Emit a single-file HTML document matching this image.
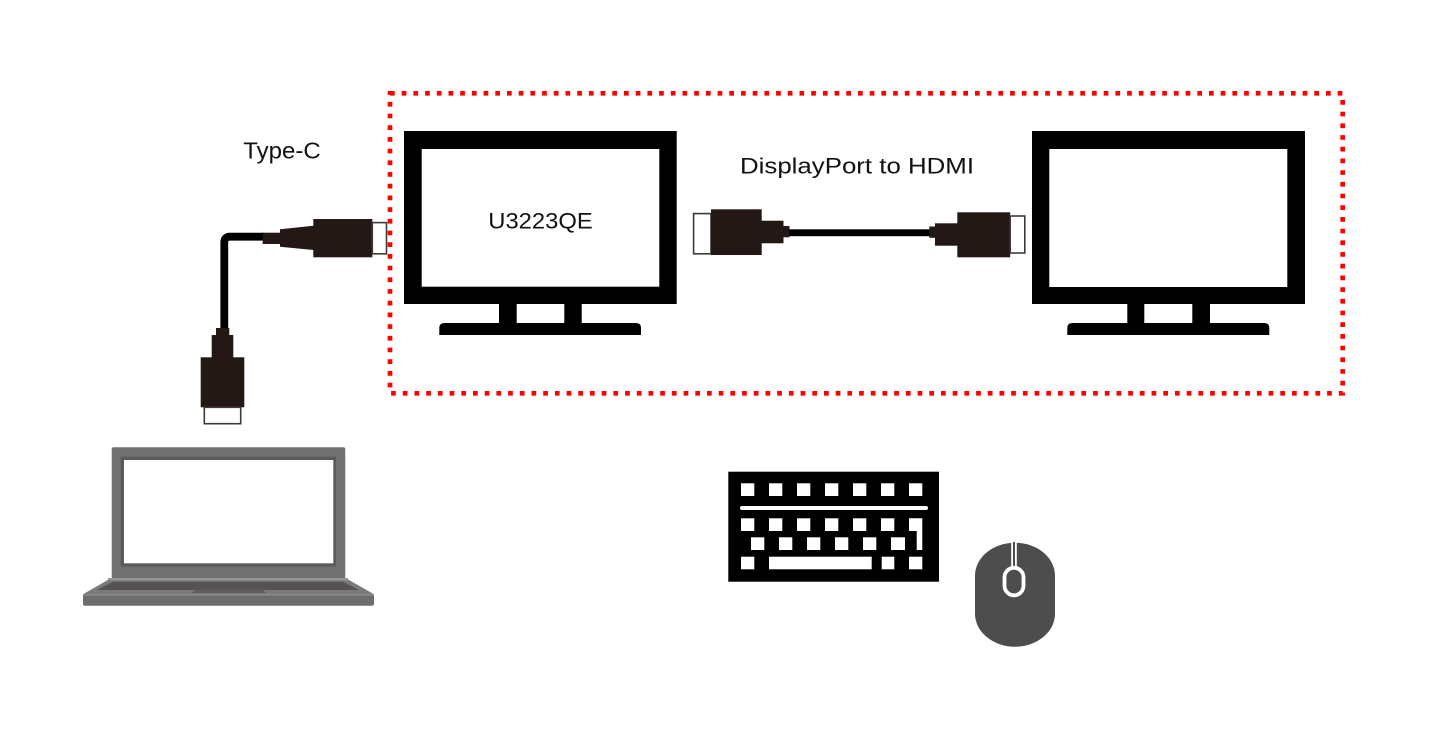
<!DOCTYPE html>
<html><head><meta charset="utf-8"><style>
html,body{margin:0;padding:0;background:#fff;}
svg{display:block;}
text{font-family:"Liberation Sans",sans-serif;fill:#111;}
</style></head><body>
<svg width="1456" height="745" viewBox="0 0 1456 745" xmlns="http://www.w3.org/2000/svg">
<rect width="1456" height="745" fill="#fff"/>

<!-- Monitor 1 -->
<rect x="404" y="131" width="272.7" height="173" fill="#000"/>
<rect x="421.7" y="149" width="237.6" height="137.7" fill="#fff"/>
<rect x="499" y="303" width="17.7" height="21" fill="#000"/>
<rect x="564.3" y="303" width="17.4" height="21" fill="#000"/>
<path d="M439.3 335 V328 Q439.3 323 444.3 323 H636 Q641 323 641 328 V335 Z" fill="#000"/>

<!-- Monitor 2 -->
<rect x="1032" y="131" width="273" height="173" fill="#000"/>
<rect x="1049.3" y="149" width="238" height="138" fill="#fff"/>
<rect x="1127.3" y="303" width="17" height="21" fill="#000"/>
<rect x="1192.3" y="303" width="17.7" height="21" fill="#000"/>
<path d="M1067.3 335 V328 Q1067.3 323 1072.3 323 H1264.3 Q1269.3 323 1269.3 328 V335 Z" fill="#000"/>

<!-- Red dotted box -->
<rect x="390" y="93.3" width="952.7" height="300" fill="none" stroke="#ff0000" stroke-width="4.7" stroke-dasharray="4.7 7"/>

<!-- Type-C cable -->
<path d="M264 236.7 H230 Q224.3 236.7 224.3 242.5 V330" fill="none" stroke="#000" stroke-width="7.8"/>
<rect x="262.7" y="232.7" width="17.6" height="11.3" fill="#231815"/>
<polygon points="280,229.3 313.5,225.7 313.5,250 280,246.7" fill="#231815"/>
<rect x="313.3" y="219" width="59" height="38.3" fill="#231815"/>
<rect x="372.3" y="222.6" width="14.2" height="31.2" fill="#fff" stroke="#3e3a39" stroke-width="1.6"/>

<rect x="216" y="328" width="13.3" height="8" fill="#231815"/>
<rect x="211.7" y="335" width="21.6" height="22.5" fill="#231815"/>
<rect x="200.7" y="357.3" width="43.6" height="50" fill="#231815"/>
<rect x="204.3" y="407.3" width="36.4" height="16.4" fill="#fff" stroke="#3e3a39" stroke-width="1.6"/>

<!-- DP to HDMI cable -->
<rect x="693.6" y="213.6" width="17.4" height="40.2" fill="#fff" stroke="#3e3a39" stroke-width="1.6"/>
<rect x="711" y="209.3" width="50.7" height="45.7" fill="#231815"/>
<rect x="761.5" y="220.7" width="22" height="22.6" fill="#231815"/>
<rect x="783.3" y="226" width="6.2" height="11.3" fill="#231815"/>
<rect x="789" y="229.3" width="141" height="6.9" fill="#000"/>
<rect x="929.3" y="226.5" width="6" height="11.3" fill="#231815"/>
<rect x="935" y="223.3" width="22.5" height="22.4" fill="#231815"/>
<rect x="957.3" y="212.3" width="52.9" height="45" fill="#231815"/>
<rect x="1010.2" y="216" width="14.6" height="37" fill="#fff" stroke="#3e3a39" stroke-width="1.6"/>

<!-- Labels -->
<text x="243.3" y="158.3" font-size="23.5" textLength="77.4" lengthAdjust="spacingAndGlyphs">Type-C</text>
<text x="740" y="173.3" font-size="22.5" textLength="234" lengthAdjust="spacingAndGlyphs">DisplayPort to HDMI</text>
<text x="488.3" y="228.3" font-size="22" textLength="104.4" lengthAdjust="spacingAndGlyphs">U3223QE</text>

<!-- Laptop -->
<rect x="111.7" y="447.3" width="233.6" height="131.5" rx="2" fill="#717171"/>
<rect x="120.7" y="456.7" width="215.3" height="110" fill="#5b5b5b"/>
<rect x="124" y="460" width="209.3" height="103.3" fill="#fff"/>
<polygon points="111.3,578 345.5,578 374,594.3 83,594.3" fill="#7a7a7a"/>
<rect x="108" y="578" width="240" height="2.2" fill="#959595"/>
<polygon points="113,581.7 343,581.7 359,590 97,590" fill="#565252"/>
<polygon points="195,589.5 263,589.5 266,593 192,593" fill="#5e5e5e"/>
<rect x="83" y="594" width="291" height="11.8" rx="2" fill="#6d6d6d"/>
<rect x="84" y="594" width="289" height="1.5" fill="#8a8a8a"/>

<!-- Keyboard -->
<rect x="728.3" y="471.7" width="210.7" height="110" fill="#000"/>
<g fill="#fff">
  <rect x="741" y="483.3" width="13.3" height="12.7"/>
  <rect x="769" y="483.3" width="13.3" height="12.7"/>
  <rect x="797" y="483.3" width="13.3" height="12.7"/>
  <rect x="825" y="483.3" width="13.3" height="12.7"/>
  <rect x="853" y="483.3" width="13.3" height="12.7"/>
  <rect x="881" y="483.3" width="13.3" height="12.7"/>
  <rect x="909" y="483.3" width="13.3" height="12.7"/>
  <rect x="740" y="506" width="188" height="4" rx="2"/>
  <rect x="741" y="518.3" width="13.3" height="12.7"/>
  <rect x="769" y="518.3" width="13.3" height="12.7"/>
  <rect x="797" y="518.3" width="13.3" height="12.7"/>
  <rect x="825" y="518.3" width="13.3" height="12.7"/>
  <rect x="853" y="518.3" width="13.3" height="12.7"/>
  <rect x="881" y="518.3" width="13.3" height="12.7"/>
  <polygon points="909,518.3 922.3,518.3 922.3,550 916.7,550 916.7,531 909,531"/>
  <rect x="751" y="537.3" width="13.3" height="12.7"/>
  <rect x="779" y="537.3" width="13.3" height="12.7"/>
  <rect x="807" y="537.3" width="13.3" height="12.7"/>
  <rect x="835" y="537.3" width="13.3" height="12.7"/>
  <rect x="863" y="537.3" width="13.3" height="12.7"/>
  <rect x="891" y="537.3" width="14" height="12.7"/>
  <rect x="741" y="556.7" width="13.3" height="12.6"/>
  <rect x="769" y="556.7" width="102.7" height="12.6"/>
  <rect x="881.7" y="556.7" width="12.6" height="12.6"/>
  <rect x="909" y="556.7" width="13.3" height="12.6"/>
</g>

<!-- Mouse -->
<rect x="975" y="542.7" width="80" height="104" rx="40" ry="33" fill="#4d4d4d"/>
<rect x="1011.2" y="542" width="5.6" height="26" fill="#fff"/>
<rect x="1013" y="542" width="2" height="25" fill="#4d4d4d"/>
<rect x="1004.5" y="567.8" width="19" height="27.5" rx="9.5" fill="#4d4d4d" stroke="#fff" stroke-width="3.8"/>
</svg>
</body></html>
